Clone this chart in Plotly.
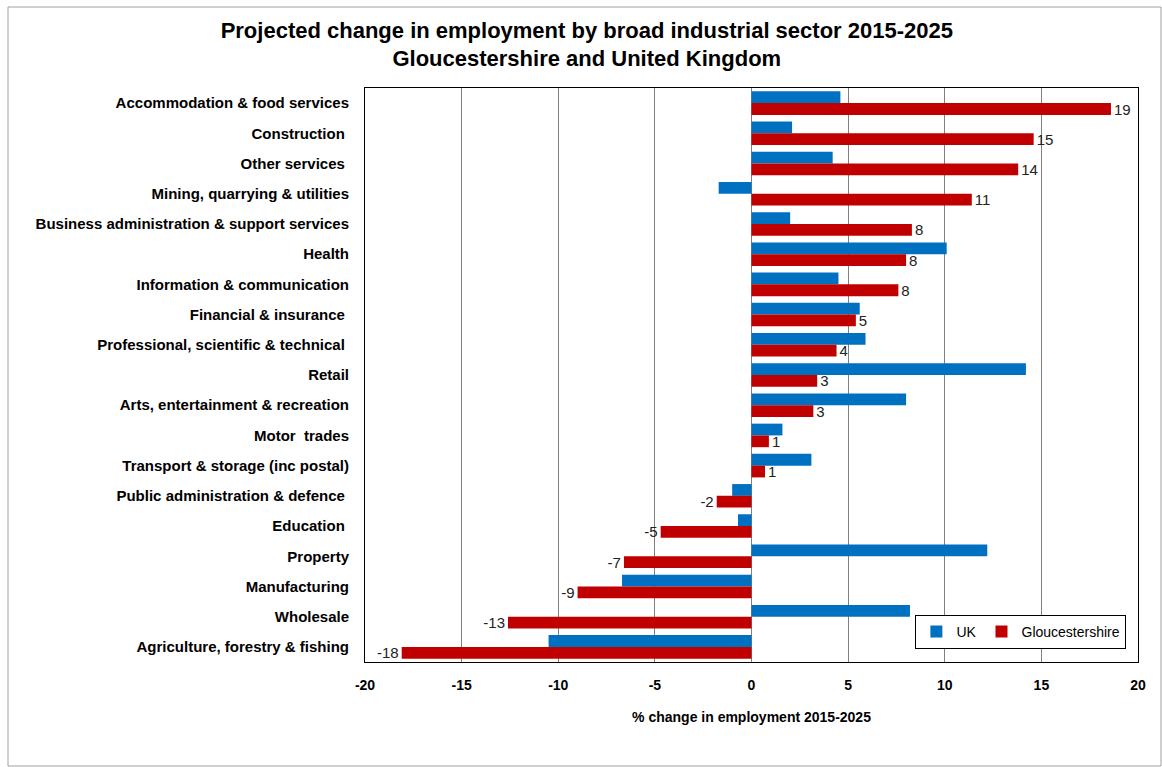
import plotly.graph_objects as go

categories = [
    "Accommodation & food services",
    "Construction ",
    "Other services ",
    "Mining, quarrying & utilities",
    "Business administration & support services",
    "Health",
    "Information & communication",
    "Financial & insurance ",
    "Professional, scientific & technical ",
    "Retail",
    "Arts, entertainment & recreation",
    "Motor  trades",
    "Transport & storage (inc postal)",
    "Public administration & defence ",
    "Education ",
    "Property",
    "Manufacturing",
    "Wholesale",
    "Agriculture, forestry & fishing",
]
uk = [4.6, 2.1, 4.2, -1.7, 2.0, 10.1, 4.5, 5.6, 5.9, 14.2, 8.0, 1.6, 3.1, -1.0, -0.7, 12.2, -6.7, 8.2, -10.5]
glos = [18.6, 14.6, 13.8, 11.4, 8.3, 8.0, 7.6, 5.4, 4.4, 3.4, 3.2, 0.9, 0.7, -1.8, -4.7, -6.6, -9.0, -12.6, -18.1]
glos_labels = [str(int(round(v))) for v in glos]
x_ticks = [-20, -15, -10, -5, 0, 5, 10, 15, 20]

BLUE = "#0070C0"
RED = "#C00000"

fig = go.Figure()
fig.add_trace(go.Bar(
    y=categories, x=uk, orientation="h", name="UK",
    marker=dict(color=BLUE, line=dict(width=0)),
))
fig.add_trace(go.Bar(
    y=categories, x=glos, orientation="h", name="Gloucestershire",
    marker=dict(color=RED, line=dict(width=0)),
    text=glos_labels, textposition="outside", cliponaxis=False,
    constraintext="none",
    textfont=dict(family="Liberation Sans, Arial", size=15, color="#222"),
))

narrow = "Liberation Sans Narrow, Arial Narrow, Liberation Sans, Arial"

fig.update_layout(
    width=1162, height=767,
    paper_bgcolor="white", plot_bgcolor="white",
    margin=dict(l=365, r=24, t=88, b=105, autoexpand=False),
    barmode="group", bargap=0.22, bargroupgap=0.0,
    title=dict(
        text="Projected change in employment by broad industrial sector 2015-2025<br>Gloucestershire and United Kingdom",
        x=0.505, xanchor="center", y=0.951, yanchor="top",
        font=dict(family=narrow, size=22, color="black", weight="bold"),
    ),
    xaxis=dict(
        range=[-20, 20], tickvals=x_ticks, ticktext=[str(t) for t in x_ticks],
        showgrid=True, gridcolor="#808080", gridwidth=1,
        zeroline=True, zerolinecolor="#808080", zerolinewidth=1,
        showline=True, linecolor="black", linewidth=1, mirror=True,
        ticks="", ticklabelstandoff=10,
        tickfont=dict(family=narrow, size=14, color="black", weight="bold"),
        title=dict(text="% change in employment 2015-2025",
                   font=dict(family=narrow, size=14, color="black", weight="bold"),
                   standoff=20),
        fixedrange=True,
    ),
    yaxis=dict(
        autorange="reversed", showgrid=False,
        showline=True, linecolor="black", linewidth=1, mirror=True,
        ticks="", ticklabelstandoff=12,
        tickfont=dict(family="Liberation Sans, Arial", size=15, color="black", weight="bold"),
        fixedrange=True,
    ),
    legend=dict(
        orientation="h", x=0.712, y=0.082, xanchor="left", yanchor="top",
        bgcolor="white", bordercolor="black", borderwidth=1,
        font=dict(family="Liberation Sans, Arial", size=14, color="black"),
        itemwidth=30, tracegroupgap=0,
    ),
    showlegend=True,
    shapes=[dict(
        type="rect", xref="paper", yref="paper",
        x0=(8 - 365) / 773, x1=(1161 - 365) / 773,
        y0=(662 - 766) / 574, y1=(662 - 7) / 574,
        line=dict(color="#A0A0A0", width=1), fillcolor="rgba(0,0,0,0)", layer="below",
    )],
)

fig.write_html("out.html")
